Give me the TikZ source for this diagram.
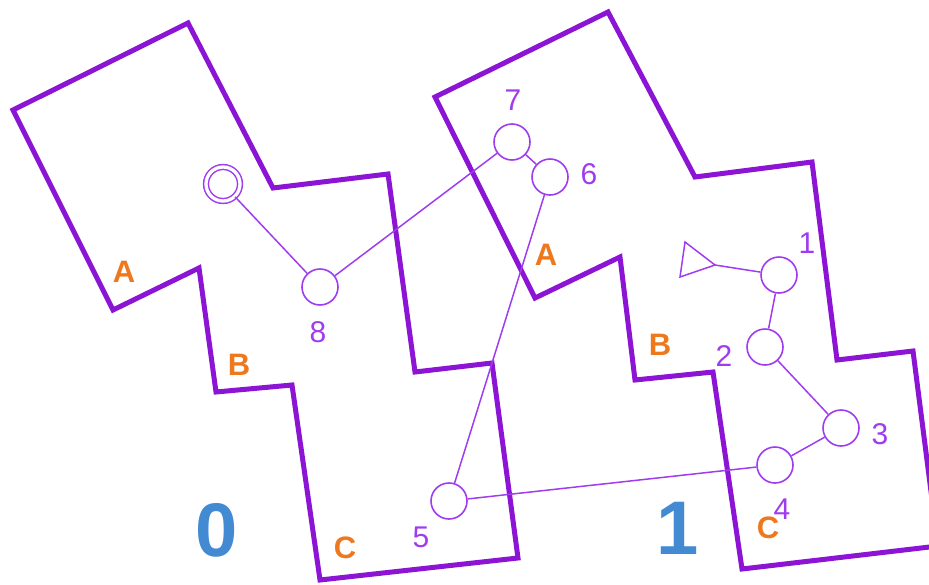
\documentclass[tikz,border=0pt]{standalone}
\usepackage{fontspec}
\setmainfont{Liberation Sans}
\definecolor{polyc}{RGB}{140,20,212}
\definecolor{nodec}{RGB}{160,60,240}
\definecolor{labc}{RGB}{238,120,30}
\definecolor{bigc}{RGB}{66,139,210}
\begin{document}
\begin{tikzpicture}[x=1pt,y=-1pt,
  poly/.style={draw=polyc,line width=5pt,line join=miter},
  vert/.style={circle,draw=nodec,line width=1.6pt,minimum size=36pt,inner sep=0pt,fill=white},
  start/.style={circle,draw=nodec,line width=1.5pt,double=white,double distance=3.3pt,minimum size=34pt,inner sep=0pt},
  edge/.style={draw=nodec,line width=1.5pt},
  num/.style={text=nodec,font=\fontsize{30}{30}\selectfont,inner sep=0pt},
  reg/.style={text=labc,font=\bfseries\fontsize{31}{31}\selectfont,inner sep=0pt},
  big/.style={text=bigc,font=\bfseries\fontsize{76}{76}\selectfont,inner sep=0pt}]
\useasboundingbox (0,0) rectangle (929,584);
\begin{scope}
\clip (0,0) rectangle (929,584);
\draw[poly] (13,110) -- (188,23) -- (273,188) -- (388,174) -- (415,372) -- (492,363) -- (518,558) -- (320,580) -- (292,385) -- (216,392) -- (199,268) -- (113,310) -- cycle;
\draw[poly] (435,97) -- (608,12) -- (695,177) -- (812,162) -- (837,360) -- (913,351) -- (938,546) -- (742,569) -- (713,372) -- (635,380) -- (620,257) -- (535,298) -- cycle;
\end{scope}
% labels
\node[reg] (la0) at (124,272) {A};
\node[reg] (lb0) at (239,365) {B};
\node[reg] (lc0) at (345,548) {C};
\node[reg] (la1) at (546,255) {A};
\node[reg] (lb1) at (660,345) {B};
\node[reg] (lc1) at (768,528) {C};
\node[big] (z0) at (217,530) {0};
\node[big] (z1) at (678,528) {1};
% graph nodes
\node[start] (s) at (223,184) {};
\node[vert] (n8) at (320,287) {};
\node[vert] (n7) at (512,142) {};
\node[vert] (n6) at (550,177) {};
\node[vert] (n5) at (449,501) {};
\node[vert] (n1) at (779,275) {};
\node[vert] (n2) at (765,347) {};
\node[vert] (n3) at (841,428) {};
\node[vert] (n4) at (775,465) {};
\coordinate (tip) at (715,265);
\draw[edge,line join=miter] (685,242) -- (tip) -- (680,277) -- cycle;
\draw[edge] (s) -- (n8);
\draw[edge] (n8) -- (n7);
\draw[edge] (n7) -- (n6);
\draw[edge] (n6) -- (n5);
\draw[edge] (n5) -- (n4);
\draw[edge] (n4) -- (n3);
\draw[edge] (n3) -- (n2);
\draw[edge] (n2) -- (n1);
\draw[edge] (n1) -- (tip);
% number labels
\node[num] (t8) at (318,332) {8};
\node[num] (t7) at (513,100) {7};
\node[num] (t6) at (589,174) {6};
\node[num] (t5) at (421,537) {5};
\node[num] (t1) at (807,243) {1};
\node[num] (t2) at (724,356) {2};
\node[num] (t3) at (880,434) {3};
\node[num] (t4) at (782,509) {4};
\end{tikzpicture}
\end{document}
